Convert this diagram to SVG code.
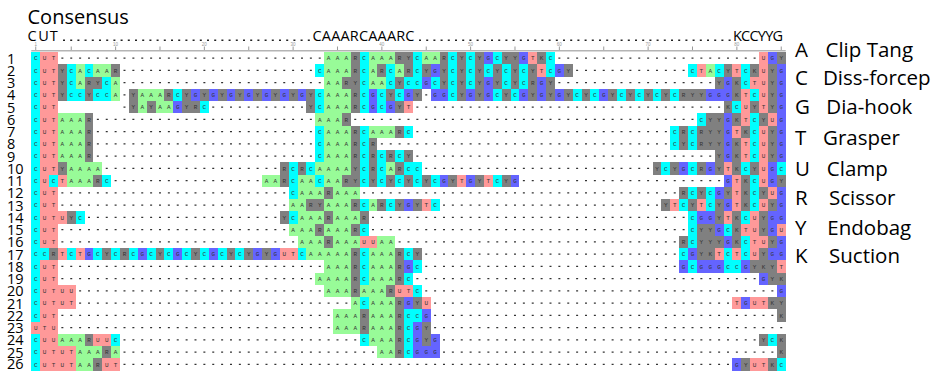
<svg xmlns="http://www.w3.org/2000/svg" width="938" height="371" viewBox="0 0 938 371">
<style>
.c{fill:#00ffff}.a{fill:#98fb98}.g{fill:#6464ff}.t{fill:#ff9999}.k{fill:#808080}
.s{font-family:"Liberation Mono",monospace;font-size:6px;letter-spacing:5.275px;fill:#333}
.d{stroke:#333;stroke-width:1.1;stroke-dasharray:2 6.875}
.cd{stroke:#222;stroke-width:1.6;stroke-dasharray:2 5.2}
.n{font-family:"Open Sans","Liberation Sans",sans-serif;font-size:14.5px;fill:#000}
.L{font-family:"Open Sans","Liberation Sans",sans-serif;font-size:20.5px;fill:#000}
.cs{font-family:"Open Sans","Liberation Sans",sans-serif;font-size:14.5px;fill:#000}
.tl{font-family:"Liberation Sans",sans-serif;font-size:4.5px;fill:#999;text-anchor:middle}
</style>
<rect width="938" height="371" fill="#fff"/>
<g id="title"><text x="27.5" y="24" style="font-family:'Open Sans','Liberation Sans',sans-serif;font-size:20px">Consensus</text></g>
<g id="consensus" class="cs">
<text x="27.5 38.3 49.8" y="41">CUT</text>
<line class="cd" x1="63" y1="40.2" x2="312" y2="40.2"/>
<text x="312.5" y="41" textLength="102" lengthAdjust="spacing">CAAARCAAARC</text>
<line class="cd" x1="419" y1="40.2" x2="731" y2="40.2"/>
<text x="733" y="41" textLength="50" lengthAdjust="spacing">KCCYYG</text>
</g>
<g id="ruler">
<line x1="31.3" y1="50.8" x2="785.7" y2="50.8" stroke="#b4b4b4" stroke-width="1.6"/>
<path d="M35.74 46.5V50M71.24 46.5V50M115.61 46.5V50M159.99 46.5V50M204.36 46.5V50M248.74 46.5V50M293.11 46.5V50M337.49 46.5V50M381.86 46.5V50M426.24 46.5V50M470.61 46.5V50M514.99 46.5V50M559.36 46.5V50M603.74 46.5V50M648.11 46.5V50M692.49 46.5V50M736.86 46.5V50M781.24 46.5V50" stroke="#999" stroke-width="1"/>
<g class="tl">
<text x="35.74" y="45.5">1</text><text x="115.61" y="45.5">10</text><text x="204.36" y="45.5">20</text><text x="293.11" y="45.5">30</text><text x="381.86" y="45.5">40</text><text x="470.61" y="45.5">50</text><text x="559.36" y="45.5">60</text><text x="648.11" y="45.5">70</text><text x="736.86" y="45.5">80</text>
</g>
</g>
<g id="row-labels" class="n">
<text x="7" y="63.6">1</text><text x="7" y="75.9">2</text><text x="7" y="88.1">3</text><text x="7" y="100.4">4</text><text x="7" y="112.6">5</text><text x="7" y="124.9">6</text><text x="7" y="137.1">7</text><text x="7" y="149.4">8</text><text x="7" y="161.6">9</text><text x="7" y="173.9">10</text><text x="7" y="186.1">11</text><text x="7" y="198.4">12</text><text x="7" y="210.6">13</text><text x="7" y="222.9">14</text><text x="7" y="235.1">15</text><text x="7" y="247.4">16</text><text x="7" y="259.6">17</text><text x="7" y="271.9">18</text><text x="7" y="284.1">19</text><text x="7" y="296.4">20</text><text x="7" y="308.6">21</text><text x="7" y="320.9">22</text><text x="7" y="333.1">23</text><text x="7" y="345.4">24</text><text x="7" y="357.6">25</text><text x="7" y="368.6">26</text>
</g>
<g id="gaps" transform="translate(31.3 52)">
<line class="d" x1="3.44" y1="6.125" x2="753" y2="6.125"/>
<line class="d" x1="3.44" y1="18.375" x2="753" y2="18.375"/>
<line class="d" x1="3.44" y1="30.625" x2="753" y2="30.625"/>
<line class="d" x1="3.44" y1="42.875" x2="753" y2="42.875"/>
<line class="d" x1="92.19" y1="55.125" x2="753" y2="55.125"/>
<line class="d" x1="3.44" y1="67.375" x2="753" y2="67.375"/>
<line class="d" x1="3.44" y1="79.625" x2="753" y2="79.625"/>
<line class="d" x1="3.44" y1="91.875" x2="753" y2="91.875"/>
<line class="d" x1="3.44" y1="104.125" x2="753" y2="104.125"/>
<line class="d" x1="3.44" y1="116.375" x2="753" y2="116.375"/>
<line class="d" x1="3.44" y1="128.625" x2="753" y2="128.625"/>
<line class="d" x1="3.44" y1="140.875" x2="753" y2="140.875"/>
<line class="d" x1="3.44" y1="153.125" x2="753" y2="153.125"/>
<line class="d" x1="3.44" y1="165.375" x2="753" y2="165.375"/>
<line class="d" x1="3.44" y1="177.625" x2="753" y2="177.625"/>
<line class="d" x1="3.44" y1="189.875" x2="753" y2="189.875"/>
<line class="d" x1="3.44" y1="202.125" x2="753" y2="202.125"/>
<line class="d" x1="3.44" y1="214.375" x2="753" y2="214.375"/>
<line class="d" x1="3.44" y1="226.625" x2="753" y2="226.625"/>
<line class="d" x1="3.44" y1="238.875" x2="753" y2="238.875"/>
<line class="d" x1="3.44" y1="251.125" x2="753" y2="251.125"/>
<line class="d" x1="3.44" y1="263.375" x2="753" y2="263.375"/>
<line class="d" x1="3.44" y1="275.625" x2="753" y2="275.625"/>
<line class="d" x1="3.44" y1="287.875" x2="753" y2="287.875"/>
<line class="d" x1="3.44" y1="300.125" x2="753" y2="300.125"/>
<line class="d" x1="3.44" y1="312.375" x2="753" y2="312.375"/>
</g>
<g id="cells" transform="translate(31.3 52) scale(8.875 12.25)" shape-rendering="crispEdges">
<path class="k" d="M0 0h3v1h-3zM33 0h26v1h-26zM82 0h3v1h-3zM0 1h10v1h-10zM32 1h29v1h-29zM74 1h11v1h-11zM0 2h10v1h-10zM33 2h26v1h-26zM77 2h8v1h-8zM0 3h10v1h-10zM11 3h33v1h-33zM45 3h40v1h-40zM0 4h3v1h-3zM11 4h9v1h-9zM31 4h12v1h-12zM78 4h7v1h-7zM0 5h7v1h-7zM32 5h4v1h-4zM75 5h10v1h-10zM0 6h7v1h-7zM32 6h11v1h-11zM72 6h13v1h-13zM0 7h7v1h-7zM32 7h7v1h-7zM72 7h13v1h-13zM0 8h7v1h-7zM32 8h11v1h-11zM77 8h8v1h-8zM0 9h8v1h-8zM28 9h16v1h-16zM70 9h15v1h-15zM0 10h9v1h-9zM26 10h29v1h-29zM78 10h7v1h-7zM0 11h3v1h-3zM29 11h8v1h-8zM73 11h12v1h-12zM0 12h3v1h-3zM29 12h17v1h-17zM71 12h14v1h-14zM0 13h6v1h-6zM28 13h10v1h-10zM74 13h11v1h-11zM0 14h3v1h-3zM29 14h9v1h-9zM74 14h11v1h-11zM0 15h3v1h-3zM30 15h11v1h-11zM73 15h12v1h-12zM0 16h44v1h-44zM73 16h12v1h-12zM0 17h3v1h-3zM33 17h11v1h-11zM73 17h12v1h-12zM0 18h3v1h-3zM32 18h11v1h-11zM82 18h3v1h-3zM0 19h5v1h-5zM33 19h11v1h-11zM84 19h1v1h-1zM0 20h5v1h-5zM36 20h9v1h-9zM79 20h6v1h-6zM0 21h3v1h-3zM34 21h11v1h-11zM84 21h1v1h-1zM0 22h3v1h-3zM34 22h11v1h-11zM0 23h10v1h-10zM37 23h9v1h-9zM82 23h3v1h-3zM0 24h10v1h-10zM39 24h7v1h-7zM84 24h1v1h-1zM0 25h10v1h-10zM79 25h6v1h-6z"/>
<path class="c" d="M0 0h1v22h-1zM0 23h1v3h-1zM37 0h1v1h-1zM43 0h1v1h-1zM47 0h1v1h-1zM49 0h1v1h-1zM52 0h1v1h-1zM58 0h1v1h-1zM4 1h1v1h-1zM6 1h1v1h-1zM32 1h1v1h-1zM37 1h1v1h-1zM40 1h1v1h-1zM43 1h1v1h-1zM47 1h1v1h-1zM49 1h1v1h-1zM51 1h1v1h-1zM53 1h1v1h-1zM55 1h1v1h-1zM58 1h1v1h-1zM74 1h1v1h-1zM77 1h1v1h-1zM80 1h1v1h-1zM4 2h1v1h-1zM8 2h1v1h-1zM37 2h1v1h-1zM40 2h1v1h-1zM42 2h2v1h-2zM45 2h1v1h-1zM47 2h1v1h-1zM49 2h1v1h-1zM53 2h1v1h-1zM55 2h1v1h-1zM80 2h1v1h-1zM4 3h2v1h-2zM7 3h2v1h-2zM16 3h1v1h-1zM32 3h1v1h-1zM37 3h1v1h-1zM39 3h1v1h-1zM41 3h1v1h-1zM47 3h1v1h-1zM52 3h1v1h-1zM54 3h1v1h-1zM61 3h1v1h-1zM63 3h1v1h-1zM66 3h1v1h-1zM68 3h1v1h-1zM70 3h1v1h-1zM72 3h1v1h-1zM81 3h1v1h-1zM19 4h1v1h-1zM32 4h1v1h-1zM37 4h1v1h-1zM39 4h1v1h-1zM79 4h1v1h-1zM75 5h1v1h-1zM81 5h1v1h-1zM32 6h1v1h-1zM37 6h1v1h-1zM42 6h1v1h-1zM72 6h1v1h-1zM74 6h1v1h-1zM81 6h1v1h-1zM32 7h1v1h-1zM37 7h1v1h-1zM72 7h1v1h-1zM74 7h1v1h-1zM81 7h1v1h-1zM32 8h1v1h-1zM37 8h1v1h-1zM39 8h1v1h-1zM41 8h1v1h-1zM81 8h1v1h-1zM29 9h1v1h-1zM31 9h1v1h-1zM37 9h1v1h-1zM39 9h1v1h-1zM42 9h2v1h-2zM71 9h1v1h-1zM74 9h1v1h-1zM80 9h1v1h-1zM84 9h1v1h-1zM2 10h1v1h-1zM8 10h1v1h-1zM29 10h1v1h-1zM32 10h1v1h-1zM37 10h1v1h-1zM39 10h1v1h-1zM41 10h1v1h-1zM43 10h1v1h-1zM45 10h1v1h-1zM52 10h1v1h-1zM81 10h1v1h-1zM29 11h1v1h-1zM74 11h1v1h-1zM76 11h1v1h-1zM81 11h1v1h-1zM37 12h1v1h-1zM40 12h1v1h-1zM45 12h1v1h-1zM73 12h1v1h-1zM76 12h1v1h-1zM81 12h1v1h-1zM5 13h1v1h-1zM29 13h1v1h-1zM74 13h1v1h-1zM80 13h1v1h-1zM37 14h1v1h-1zM74 14h1v1h-1zM78 14h1v1h-1zM74 15h1v1h-1zM80 15h1v1h-1zM1 16h1v1h-1zM4 16h1v1h-1zM7 16h1v1h-1zM9 16h1v1h-1zM11 16h1v1h-1zM13 16h1v1h-1zM15 16h1v1h-1zM17 16h1v1h-1zM19 16h1v1h-1zM21 16h1v1h-1zM23 16h1v1h-1zM30 16h1v1h-1zM37 16h1v1h-1zM42 16h1v1h-1zM73 16h1v1h-1zM78 16h1v1h-1zM80 16h1v1h-1zM37 17h1v1h-1zM43 17h1v1h-1zM74 17h1v1h-1zM78 17h2v1h-2zM37 18h1v1h-1zM42 18h1v1h-1zM43 19h1v1h-1zM37 20h1v1h-1zM42 21h2v1h-2zM42 22h1v1h-1zM9 23h1v1h-1zM37 23h1v1h-1zM42 23h1v1h-1zM83 23h1v1h-1zM42 24h1v1h-1zM84 25h1v1h-1z"/>
<path class="a" d="M33 0h3v1h-3zM38 0h3v1h-3zM44 0h2v1h-2zM5 1h1v1h-1zM7 1h2v1h-2zM33 1h3v1h-3zM38 1h1v1h-1zM41 1h1v1h-1zM76 1h1v1h-1zM5 2h1v1h-1zM9 2h1v1h-1zM33 2h2v1h-2zM38 2h2v1h-2zM9 3h1v1h-1zM12 3h3v1h-3zM33 3h3v1h-3zM12 4h1v1h-1zM14 4h2v1h-2zM33 4h3v1h-3zM3 5h3v1h-3zM32 5h3v1h-3zM3 6h3v1h-3zM33 6h3v1h-3zM38 6h3v1h-3zM3 7h3v1h-3zM33 7h3v1h-3zM3 8h3v1h-3zM33 8h3v1h-3zM4 9h4v1h-4zM32 9h4v1h-4zM40 9h1v1h-1zM4 10h3v1h-3zM26 10h2v1h-2zM30 10h2v1h-2zM33 10h2v1h-2zM30 11h3v1h-3zM34 11h3v1h-3zM29 12h2v1h-2zM33 12h3v1h-3zM38 12h1v1h-1zM30 13h3v1h-3zM34 13h3v1h-3zM29 14h3v1h-3zM33 14h3v1h-3zM30 15h3v1h-3zM34 15h3v1h-3zM39 15h2v1h-2zM31 16h5v1h-5zM38 16h3v1h-3zM33 17h3v1h-3zM38 17h3v1h-3zM32 18h4v1h-4zM38 18h3v1h-3zM33 19h3v1h-3zM37 19h3v1h-3zM36 20h1v1h-1zM38 20h3v1h-3zM34 21h3v1h-3zM38 21h3v1h-3zM34 22h3v1h-3zM38 22h3v1h-3zM3 23h3v1h-3zM38 23h3v1h-3zM5 24h3v1h-3zM9 24h1v1h-1zM39 24h2v1h-2zM5 25h2v1h-2z"/>
<path class="g" d="M51 0h1v1h-1zM55 0h1v1h-1zM83 0h1v1h-1zM45 1h1v1h-1zM59 1h1v1h-1zM84 1h1v1h-1zM44 2h1v1h-1zM51 2h1v1h-1zM57 2h1v1h-1zM78 2h1v1h-1zM84 2h1v1h-1zM18 3h1v1h-1zM20 3h1v1h-1zM22 3h1v1h-1zM24 3h1v1h-1zM26 3h1v1h-1zM28 3h1v1h-1zM30 3h1v1h-1zM38 3h1v1h-1zM42 3h1v1h-1zM45 3h2v1h-2zM49 3h1v1h-1zM51 3h1v1h-1zM55 3h1v1h-1zM57 3h1v1h-1zM59 3h1v1h-1zM64 3h1v1h-1zM76 3h3v1h-3zM84 3h1v1h-1zM16 4h1v1h-1zM38 4h1v1h-1zM40 4h1v1h-1zM84 4h1v1h-1zM78 5h1v1h-1zM84 5h1v1h-1zM78 6h1v1h-1zM84 6h1v1h-1zM78 7h1v1h-1zM84 7h1v1h-1zM78 8h1v1h-1zM84 8h1v1h-1zM73 9h1v1h-1zM76 9h1v1h-1zM83 9h1v1h-1zM46 10h1v1h-1zM49 10h1v1h-1zM54 10h1v1h-1zM78 10h1v1h-1zM83 10h1v1h-1zM77 11h1v1h-1zM84 11h1v1h-1zM42 12h1v1h-1zM78 12h1v1h-1zM84 12h1v1h-1zM75 13h2v1h-2zM83 13h2v1h-2zM77 14h1v1h-1zM83 14h1v1h-1zM78 15h1v1h-1zM84 15h1v1h-1zM6 16h1v1h-1zM12 16h1v1h-1zM16 16h1v1h-1zM20 16h1v1h-1zM25 16h1v1h-1zM27 16h1v1h-1zM74 16h1v1h-1zM83 16h2v1h-2zM42 17h1v1h-1zM73 17h1v1h-1zM75 17h3v1h-3zM80 17h1v1h-1zM82 18h1v1h-1zM84 19h1v1h-1zM42 20h1v1h-1zM80 20h1v1h-1zM44 21h1v1h-1zM43 22h1v1h-1zM43 23h1v1h-1zM45 23h1v1h-1zM43 24h3v1h-3zM79 25h1v1h-1z"/>
<path class="t" d="M1 0h2v1h-2zM56 0h1v1h-1zM82 0h1v1h-1zM1 1h2v1h-2zM57 1h1v1h-1zM75 1h1v1h-1zM79 1h1v1h-1zM82 1h1v1h-1zM1 2h2v1h-2zM81 2h2v1h-2zM1 3h2v1h-2zM80 3h1v1h-1zM82 3h1v1h-1zM1 4h2v1h-2zM42 4h1v1h-1zM80 4h1v1h-1zM82 4h1v1h-1zM1 5h2v1h-2zM80 5h1v1h-1zM83 5h1v1h-1zM1 6h2v1h-2zM79 6h1v1h-1zM82 6h1v1h-1zM1 7h2v1h-2zM80 7h1v1h-1zM82 7h1v1h-1zM1 8h2v1h-2zM80 8h1v1h-1zM82 8h1v1h-1zM1 9h2v1h-2zM78 9h1v1h-1zM82 9h1v1h-1zM1 10h1v1h-1zM3 10h1v1h-1zM48 10h1v1h-1zM51 10h1v1h-1zM79 10h1v1h-1zM82 10h1v1h-1zM1 11h2v1h-2zM79 11h1v1h-1zM83 11h1v1h-1zM1 12h2v1h-2zM44 12h1v1h-1zM72 12h1v1h-1zM75 12h1v1h-1zM79 12h1v1h-1zM82 12h1v1h-1zM1 13h3v1h-3zM78 13h1v1h-1zM81 13h1v1h-1zM1 14h2v1h-2zM80 14h2v1h-2zM84 14h1v1h-1zM1 15h2v1h-2zM37 15h2v1h-2zM81 15h2v1h-2zM3 16h1v1h-1zM5 16h1v1h-1zM28 16h2v1h-2zM77 16h1v1h-1zM79 16h1v1h-1zM81 16h1v1h-1zM1 17h2v1h-2zM84 17h1v1h-1zM1 18h2v1h-2zM1 19h4v1h-4zM41 19h2v1h-2zM1 20h4v1h-4zM44 20h1v1h-1zM79 20h1v1h-1zM81 20h2v1h-2zM1 21h2v1h-2zM0 22h3v1h-3zM1 23h2v1h-2zM7 23h2v1h-2zM1 24h4v1h-4zM1 25h4v1h-4zM8 25h2v1h-2zM81 25h2v1h-2z"/>
</g>
<g id="letters" class="s" transform="translate(31.3 52)">
<text x="2.64" y="8.3">CUT</text><text x="295.51" y="8.3">AAARCAAARYCAARCYCYGCYYGTKC</text><text x="730.39" y="8.3">UGY</text>
<text x="2.64" y="20.55">CUTYCACAAR</text><text x="286.64" y="20.55">CAAARCARCARCYGYCYCYCYCYCYTCGY</text><text x="659.39" y="20.55">CTACYTCKUYG</text>
<text x="2.64" y="32.8">CUTYCARYCA</text><text x="295.51" y="32.8">AARYCAACYCCGCYCYCYGYCYCRGY</text><text x="686.01" y="32.8">YGKCTUYG</text>
<text x="2.64" y="45.05">CUTYCCYCCA</text><text x="100.26" y="45.05">YAAARCYGYGYGYGYGYGYGYCAAARCGCYCGY</text><text x="402.01" y="45.05">GGCYGYGCYCGYGYGYCYCGYCYCYCYCRYYGGGKTCUYG</text>
<text x="2.64" y="57.3">CUT</text><text x="100.26" y="57.3">YAYAAGYRC</text><text x="277.76" y="57.3">YCAAARCGCGYT</text><text x="694.89" y="57.3">KCUYTYG</text>
<text x="2.64" y="69.55">CUTAAAR</text><text x="286.64" y="69.55">AAAR</text><text x="668.26" y="69.55">CYYGKTCYUG</text>
<text x="2.64" y="81.8">CUTAAAR</text><text x="286.64" y="81.8">CAAARCAAARC</text><text x="641.64" y="81.8">CRCRYYGTKCUYG</text>
<text x="2.64" y="94.05">CUTAAAR</text><text x="286.64" y="94.05">CAAARCR</text><text x="641.64" y="94.05">CYCRYYGKTCUYG</text>
<text x="2.64" y="106.3">CUTAAAR</text><text x="286.64" y="106.3">CAAARCRCRCY</text><text x="686.01" y="106.3">YGKTCUYG</text>
<text x="2.64" y="118.55">CUTYAAAA</text><text x="251.14" y="118.55">RCRCAAAAYCRCARCC</text><text x="623.89" y="118.55">YCYGCRGYTKCYUGC</text>
<text x="2.64" y="130.8">CUCTAAARC</text><text x="233.39" y="130.8">AARCAACAARYCYCYCYCYCGYTGYTCYG</text><text x="694.89" y="130.8">GTKCUGY</text>
<text x="2.64" y="143.05">CUT</text><text x="260.01" y="143.05">CAAARAAA</text><text x="650.51" y="143.05">RCYCGYTKCYUG</text>
<text x="2.64" y="155.3">CUT</text><text x="260.01" y="155.3">AARYAAARCARCYGYTC</text><text x="632.76" y="155.3">YTCYTCYGTKCUYG</text>
<text x="2.64" y="167.55">CUTUYC</text><text x="251.14" y="167.55">YCAAARAAAR</text><text x="659.39" y="167.55">CGGYTKCUYGG</text>
<text x="2.64" y="179.8">CUT</text><text x="260.01" y="179.8">AAARAAARC</text><text x="659.39" y="179.8">CYYGCKTUYGU</text>
<text x="2.64" y="192.05">CUT</text><text x="268.89" y="192.05">AAARAAAUUAA</text><text x="650.51" y="192.05">RCYYYGKCTUYG</text>
<text x="2.64" y="204.3">CCRTCTGCYCRCGCYCGCYCGCYCYGYGUTC</text><text x="277.76" y="204.3">AAAAARCAAARCY</text><text x="650.51" y="204.3">CGYKTCTCUYGG</text>
<text x="2.64" y="216.55">CUT</text><text x="295.51" y="216.55">AAARCAAARGC</text><text x="650.51" y="216.55">GCGGGCCGYKYT</text>
<text x="2.64" y="228.8">CUT</text><text x="286.64" y="228.8">AAAARCAAARC</text><text x="730.39" y="228.8">GYK</text>
<text x="2.64" y="241.05">CUTUU</text><text x="295.51" y="241.05">AAARAAARUTC</text><text x="748.14" y="241.05">G</text>
<text x="2.64" y="253.3">CUTUT</text><text x="322.14" y="253.3">ACAAARGYU</text><text x="703.76" y="253.3">TGUTKY</text>
<text x="2.64" y="265.55">CUT</text><text x="304.39" y="265.55">AAARAAARCCG</text><text x="748.14" y="265.55">K</text>
<text x="2.64" y="277.8">UTU</text><text x="304.39" y="277.8">AAARAAARCGY</text>
<text x="2.64" y="290.05">CUUAAARUUC</text><text x="331.01" y="290.05">CAAARCGYG</text><text x="730.39" y="290.05">YCK</text>
<text x="2.64" y="302.3">CUTUTAAARA</text><text x="348.76" y="302.3">AARCGGG</text><text x="748.14" y="302.3">K</text>
<text x="2.64" y="314.55">CUTUTAARUT</text><text x="703.76" y="314.55">GYUTKC</text>
</g>
<g id="legend" class="L">
<g id="leg-A"><text x="795" y="56.5">A</text><text x="825.5" y="56.5">Clip Tang</text></g>
<g id="leg-C"><text x="795" y="85">C</text><text x="823" y="85">Diss-forcep</text></g>
<g id="leg-G"><text x="795" y="114">G</text><text x="826.3" y="114">Dia-hook</text></g>
<g id="leg-T"><text x="795" y="145">T</text><text x="823" y="145">Grasper</text></g>
<g id="leg-U"><text x="795" y="175.5">U</text><text x="826.8" y="175.5">Clamp</text></g>
<g id="leg-R"><text x="795" y="205">R</text><text x="829" y="205">Scissor</text></g>
<g id="leg-Y"><text x="795" y="234.5">Y</text><text x="827.3" y="234.5">Endobag</text></g>
<g id="leg-K"><text x="795" y="263">K</text><text x="829" y="263">Suction</text></g>
</g>
</svg>
